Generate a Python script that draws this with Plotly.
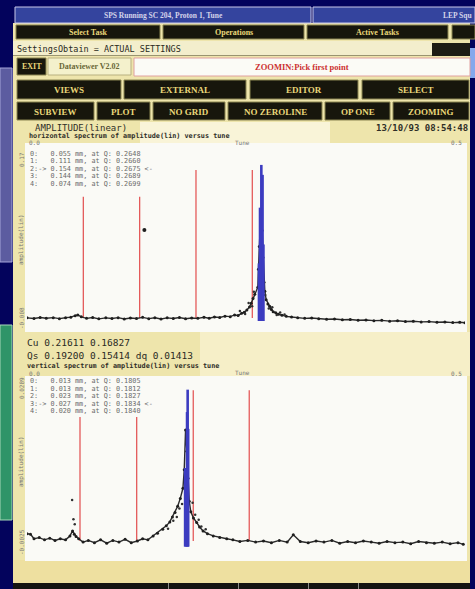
import plotly.graph_objects as go

W, H = 475, 589

# ---------------- data: horizontal spectrum ----------------
tune_h = [0.000, 0.008, 0.015, 0.022, 0.030, 0.037, 0.044, 0.050, 0.055, 0.058,
          0.062, 0.068, 0.075, 0.082, 0.090, 0.097, 0.104, 0.111, 0.118, 0.125,
          0.132, 0.139, 0.146, 0.153, 0.160, 0.167, 0.174, 0.181, 0.188, 0.195,
          0.202, 0.208, 0.214, 0.220, 0.226, 0.232, 0.237, 0.241, 0.245, 0.248,
          0.251, 0.254, 0.256, 0.258, 0.260, 0.2635, 0.2642, 0.2652, 0.2668, 0.2684,
          0.2694, 0.2705, 0.2715, 0.273, 0.275, 0.277, 0.279, 0.281, 0.284, 0.287,
          0.291, 0.296, 0.302, 0.309, 0.317, 0.325, 0.333, 0.342, 0.351, 0.360,
          0.369, 0.378, 0.387, 0.396, 0.405, 0.414, 0.423, 0.432, 0.441, 0.450,
          0.459, 0.468, 0.477, 0.486, 0.494, 0.500]
amp_h = [0.0002, -0.0004, 0.0006, -0.0002, 0.0004, -0.0006, 0.0003, 0.0009, 0.0024, 0.0031,
         0.0012, -0.0003, 0.0005, -0.0008, 0.0002, -0.0005, 0.0004, -0.0009, 0.0001, -0.0004,
         0.0007, -0.0006, 0.0003, -0.0010, 0.0002, -0.0004, 0.0006, -0.0007, 0.0000, -0.0003,
         0.0008, -0.0002, 0.0011, 0.0006, 0.0019, 0.0014, 0.0031, 0.0026, 0.0047, 0.0058,
         0.0081, 0.0112, 0.0150, 0.0196, 0.0240, 0.0310, 0.0490, 0.0720, 0.1050, 0.0880,
         0.0610, 0.0360, 0.0270, 0.0185, 0.0142, 0.0118, 0.0086, 0.0064, 0.0052, 0.0038,
         0.0029, 0.0017, 0.0011, 0.0004, -0.0003, 0.0001, -0.0008, -0.0012, -0.0009, -0.0017,
         -0.0014, -0.0022, -0.0019, -0.0026, -0.0023, -0.0031, -0.0027, -0.0034, -0.0032, -0.0039,
         -0.0036, -0.0042, -0.0040, -0.0046, -0.0043, -0.0047]
# loose points scattered around the resonance skirt
skirt_tune_h = [0.243, 0.249, 0.253, 0.257, 0.259, 0.272, 0.276, 0.280, 0.285, 0.289, 0.294]
skirt_amp_h = [0.0072, 0.0041, 0.0152, 0.0118, 0.0265, 0.0232, 0.0096, 0.0108, 0.0031, 0.0055, 0.0036]
stray_tune_h = [0.134]
stray_amp_h = [0.0886]
peak_tune_h = [0.2648, 0.2660, 0.2675, 0.2689, 0.2699]
peak_amp_h = [0.055, 0.111, 0.154, 0.144, 0.074]
cursor_h = 2
res_tune_h = [0.0643, 0.1286, 0.1929, 0.2572]
res_amp_h = [0.122, 0.122, 0.149, 0.149]
range_h = [-0.008, 0.17]

# ---------------- data: vertical spectrum ----------------
tune_v = [0.000, 0.004, 0.008, 0.014, 0.020, 0.026, 0.032, 0.038, 0.044, 0.049,
          0.052, 0.054, 0.056, 0.059, 0.064, 0.070, 0.077, 0.084, 0.091, 0.098,
          0.105, 0.112, 0.119, 0.126, 0.132, 0.138, 0.144, 0.149, 0.155, 0.159,
          0.163, 0.166, 0.169, 0.172, 0.175, 0.178, 0.1795, 0.181, 0.1825, 0.1838,
          0.1852, 0.187, 0.190, 0.1937, 0.197, 0.201, 0.206, 0.2126, 0.220, 0.228,
          0.235, 0.243, 0.252, 0.261, 0.270, 0.279, 0.288, 0.297, 0.304, 0.312,
          0.321, 0.330, 0.339, 0.348, 0.357, 0.366, 0.375, 0.384, 0.393, 0.402,
          0.411, 0.420, 0.429, 0.438, 0.447, 0.456, 0.465, 0.474, 0.483, 0.492, 0.498]
amp_v = [0.0013, 0.0012, 0.0004, 0.0006, 0.0002, 0.0005, 0.0001, 0.0004, 0.0002, 0.0009,
         0.0018, 0.0012, 0.0008, 0.0004, -0.0002, 0.0001, -0.0003, 0.0002, -0.0004, 0.0001,
         -0.0002, 0.0003, -0.0003, 0.0000, 0.0004, 0.0002, 0.0009, 0.0014, 0.0021, 0.0027,
         0.0034, 0.0043, 0.0051, 0.0062, 0.0076, 0.0094, 0.0127, 0.0198, 0.0160, 0.0112,
         0.0071, 0.0052, 0.0041, 0.0033, 0.0025, 0.0018, 0.0013, 0.0009, 0.0006, 0.0004,
         0.0002, -0.0001, 0.0001, -0.0002, 0.0000, -0.0003, 0.0001, -0.0002, 0.0011, -0.0001,
         -0.0003, 0.0000, -0.0002, 0.0001, -0.0004, -0.0001, -0.0003, 0.0000, -0.0002, -0.0004,
         -0.0001, -0.0003, -0.0002, -0.0005, -0.0001, -0.0003, -0.0004, -0.0002, -0.0005, -0.0003, -0.0006]
skirt_tune_v = [0.0515, 0.053, 0.0545, 0.161, 0.167, 0.171, 0.174, 0.177, 0.189, 0.192, 0.196, 0.199, 0.204]
skirt_amp_v = [0.0073, 0.0039, 0.0030, 0.0022, 0.0036, 0.0043, 0.0058, 0.0066, 0.0068, 0.0047, 0.0038, 0.0026, 0.0021]
peak_tune_v = [0.1805, 0.1812, 0.1827, 0.1834, 0.1840]
peak_amp_v = [0.013, 0.013, 0.023, 0.027, 0.020]
cursor_v = 3
res_tune_v = [0.0605, 0.1252, 0.1898, 0.2537]
res_amp_v = [0.0221, 0.0221, 0.0269, 0.0269]
range_v = [-0.0025, 0.0289]

tune_range = [0.0, 0.5]
cu_values = [0.21611, 0.16827]
qs_values = [0.19200, 0.15414]
dq_value = 0.01413
timestamp = "13/10/93 08:54:48"

# ---------------- helpers ----------------
NAVY = "#03035c"
SCREEN = "#eee5ac"
BTN = "#17160c"
BTN_TXT = "#e9d77a"
MONO = "DejaVu Sans Mono"
SERIF = "Liberation Serif"

shapes, annos = [], []


def px(x):
    return x / W


def py(y):
    return 1 - y / H


def rect(x0, y0, x1, y1, fill, line=None, lw=0, opacity=1.0):
    shapes.append(dict(type="rect", xref="paper", yref="paper",
                       x0=px(x0), x1=px(x1), y0=py(y1), y1=py(y0),
                       fillcolor=fill, opacity=opacity, layer="below",
                       line=dict(color=line or fill, width=lw)))


def text(x, y, s, size, color, family=MONO, anchor="left", angle=0, bold=False):
    annos.append(dict(xref="paper", yref="paper", x=px(x), y=py(y),
                      text=f"<b>{s}</b>" if bold else s, showarrow=False,
                      xanchor=anchor, yanchor="middle", textangle=angle,
                      font=dict(family=family, size=size, color=color)))


def button(x0, y0, x1, y1, label, size=9):
    rect(x0, y0, x1, y1, BTN, "#8a8450", 1)
    text((x0 + x1) / 2, (y0 + y1) / 2 + 0.5, label, size, BTN_TXT, SERIF, "center", bold=True)


def sticks(xs, tops, base):
    sx, sy = [], []
    for x, t in zip(xs, tops):
        sx += [x, x, None]
        sy += [base, t, None]
    return sx, sy


def nb(s):
    return s.replace(" ", "\u00a0")


# ---------------- screen chrome ----------------
rect(0, 68, 12, 262, "#5c5ca0", "#a4a4d8", 1)
rect(0, 325, 12, 520, "#2f9468", "#a8d8b8", 1)
rect(13, 23, 470, 583, SCREEN)
# bright streaks on the screen glass
rect(140, 122, 330, 143, "#fbf8e4", opacity=0.8)
rect(13, 560, 470, 583, "#eee0a0")
rect(200, 332, 470, 376, "#f7f1cf", opacity=0.8)
rect(13, 41, 432, 56, "#f3eecc")
rect(13, 55, 432, 56, "#9a9470")

# title bars
rect(15, 7, 311, 23, "#34449e", "#c8c8e8", 1)
rect(313, 7, 475, 23, "#34449e", "#c8c8e8", 1)
text(163, 15, "SPS Running SC 204, Proton 1, Tune", 7.5, "#d4d4ea", SERIF, "center", bold=True)
text(474, 15, "LEP Squ", 7.5, "#d4d4ea", SERIF, "right", bold=True)

for x0, x1, lab in [(16, 160, "Select Task"), (163, 304, "Operations"),
                    (307, 448, "Active Tasks"), (452, 475, "")]:
    button(x0, 25, x1, 39, lab, 8)

text(15, 48.5, "SettingsObtain = ACTUAL SETTINGS", 8.5, "#2a2a22", MONO)
rect(432, 43, 470, 56, "#1d1c14")
rect(470, 48, 475, 78, "#86a8ec")

button(17, 58, 46, 75, "EXIT", 8)
rect(48, 58, 131, 75, "#f4f1cc", "#b8b080", 1)
text(89, 66.5, "Dataviewer V2.02", 8, "#6a6838", SERIF, "center", bold=True)
rect(134, 58, 470, 76, "#fbfbf6", "#e0a0a0", 1)
text(302, 67, "ZOOMIN:Pick first point", 8.5, "#cc3030", SERIF, "center", bold=True)

for x0, x1, lab in [(17, 121, "VIEWS"), (124, 246, "EXTERNAL"),
                    (250, 358, "EDITOR"), (362, 469, "SELECT")]:
    button(x0, 80, x1, 99, lab)
for x0, x1, lab in [(17, 94, "SUBVIEW"), (97, 150, "PLOT"), (153, 225, "NO GRID"),
                    (228, 322, "NO ZEROLINE"), (325, 390, "OP ONE"), (393, 469, "ZOOMING")]:
    button(x0, 102, x1, 120, lab)

rect(13, 583, 470, 589, "#141410")
for xd in [168, 238, 308, 358]:
    rect(xd, 583, xd + 1, 589, "#8c8c88")

# plot panels
rect(25, 143, 467, 332, "#fafaf6")
rect(25, 376, 467, 561, "#fafaf6")

# ---------------- header texts ----------------
text(33, 128, "AMPLITUDE(linear)", 9, "#2e2e28", MONO)
text(470, 128, timestamp, 9, "#2e2e28", MONO, "right", bold=True)
text(27, 136, "horizontal spectrum of amplitude(lin) versus tune", 6.8, "#2e2e28", MONO, bold=True)
text(27, 142, f"{tune_range[0]:.1f}", 6, "#777", MONO)
text(242, 142, "Tune", 6, "#777", MONO, "center")
text(464, 142, f"{tune_range[1]:.1f}", 6, "#777", MONO, "right")
text(21, 160, f"{range_h[1]:g}", 6, "#777", MONO, "center", -90)
text(21, 318, f"{range_h[0]:g}", 6, "#777", MONO, "center", -90)
text(21, 240, "amplitude(lin)", 6, "#777", MONO, "center", -90)

text(25, 342, f"Cu {cu_values[0]:.5f} {cu_values[1]:.5f}", 9.5, "#2a2a24", MONO)
text(25, 355, f"Qs {qs_values[0]:.5f} {qs_values[1]:.5f} dq {dq_value:.5f}", 9.5, "#2a2a24", MONO)
text(25, 366, "vertical spectrum of amplitude(lin) versus tune", 6.8, "#2e2e28", MONO, bold=True)
text(27, 373, f"{tune_range[0]:.1f}", 6, "#777", MONO)
text(242, 372, "Tune", 6, "#777", MONO, "center")
text(464, 373, f"{tune_range[1]:.1f}", 6, "#777", MONO, "right")
text(21, 388, f"{range_v[1]:g}", 6, "#777", MONO, "center", -90)
text(21, 542, f"{range_v[0]:g}", 6, "#777", MONO, "center", -90)
text(21, 462, "amplitude(lin)", 6, "#777", MONO, "center", -90)


def peak_list(tunes, amps, cursor, y0, dy):
    for i, (q, a) in enumerate(zip(tunes, amps)):
        tag = f"{i}:->" if i == cursor else f"{i}:"
        tail = " <-" if i == cursor else ""
        text(28, y0 + i * dy, nb(f"{tag:<5}{a:.3f} mm, at Q: {q:.4f}{tail}"), 6.8, "#6a6a6a", MONO)


peak_list(peak_tune_h, peak_amp_h, cursor_h, 153.5, 7.5)
peak_list(peak_tune_v, peak_amp_v, cursor_v, 381, 7.5)

# ---------------- traces ----------------
fig = go.Figure()


def add_panel(xa, ya, tunes, amps, stune, samp, ptune, pamp, rtune, ramp, pbase):
    rx, ry = sticks(rtune, ramp, 0.0)
    fig.add_trace(go.Scatter(x=rx, y=ry, mode="lines", xaxis=xa, yaxis=ya,
                             line=dict(color="#e45a5a", width=1.3), hoverinfo="skip"))
    fig.add_trace(go.Scatter(x=tunes, y=amps, mode="lines+markers", xaxis=xa, yaxis=ya,
                             line=dict(color="#2a2a2a", width=1.4),
                             marker=dict(color="#1e1e1e", size=3)))
    fig.add_trace(go.Scatter(x=stune, y=samp, mode="markers", xaxis=xa, yaxis=ya,
                             marker=dict(color="#303030", size=2.5)))
    bx, by = sticks(ptune, pamp, pbase)
    fig.add_trace(go.Scatter(x=bx, y=by, mode="lines", xaxis=xa, yaxis=ya,
                             line=dict(color="#3c3cc0", width=2.6)))


add_panel("x", "y", tune_h, amp_h, skirt_tune_h, skirt_amp_h,
          peak_tune_h, peak_amp_h, res_tune_h, res_amp_h, -0.003)
fig.add_trace(go.Scatter(x=stray_tune_h, y=stray_amp_h, mode="markers",
                         marker=dict(color="#1e1e1e", size=4)))
add_panel("x2", "y2", tune_v, amp_v, skirt_tune_v, skirt_amp_v,
          peak_tune_v, peak_amp_v, res_tune_v, res_amp_v, -0.001)

xdom = [px(27), px(465)]
axis_off = dict(visible=False, showgrid=False, zeroline=False, fixedrange=True)
fig.update_layout(
    width=W, height=H, margin=dict(l=0, r=0, t=0, b=0),
    paper_bgcolor=NAVY, plot_bgcolor="rgba(0,0,0,0)", showlegend=False,
    xaxis=dict(domain=xdom, range=tune_range, anchor="y", **axis_off),
    yaxis=dict(domain=[py(326), py(149)], range=range_h, anchor="x", **axis_off),
    xaxis2=dict(domain=xdom, range=tune_range, anchor="y2", **axis_off),
    yaxis2=dict(domain=[py(555), py(379)], range=range_v, anchor="x2", **axis_off),
    shapes=shapes, annotations=annos,
)

fig.write_html("out.html")
